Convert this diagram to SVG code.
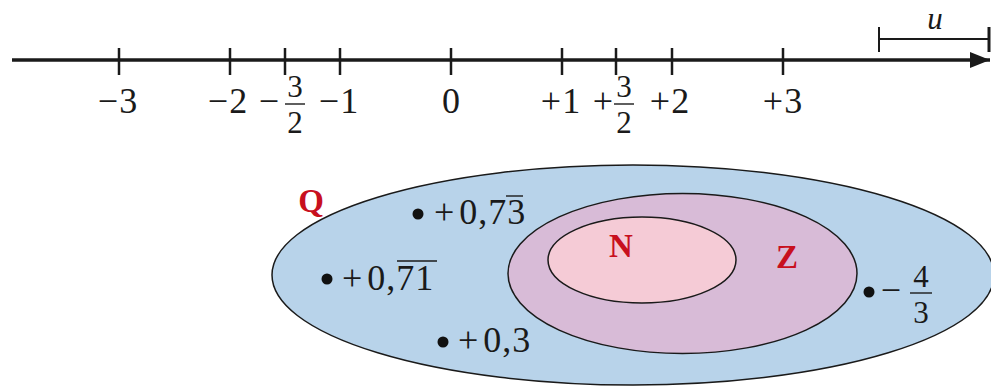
<svg xmlns="http://www.w3.org/2000/svg" width="991" height="390" viewBox="0 0 991 390">
<style>
.t{font-family:"Liberation Serif",serif;font-size:36px;fill:#1a1a1a}
.fr{font-size:31px}
.ax{letter-spacing:1px}
.lbl{font-family:"Liberation Serif",serif;font-size:33px;font-weight:bold;fill:#c8101e}
.tick{stroke:#1a1a1a;stroke-width:2.5}
.bar{stroke:#1a1a1a;stroke-width:1.4}
.ell{stroke:#1a1a1a;stroke-width:1.5}
</style>
<defs>
<marker id="arr" viewBox="0 0 20 16" refX="20" refY="8" markerWidth="20" markerHeight="16" markerUnits="userSpaceOnUse" orient="auto">
<path d="M0,0 L20,8 L0,16 Z" fill="#1a1a1a"/>
</marker>
</defs>
<g id="connectors">
<line x1="12" y1="60" x2="990" y2="60" stroke="#1a1a1a" stroke-width="3.5" marker-end="url(#arr)"/>
<line class="tick" x1="119" y1="48" x2="119" y2="75"/>
<line class="tick" x1="230" y1="48" x2="230" y2="75"/>
<line class="tick" x1="285" y1="48" x2="285" y2="75"/>
<line class="tick" x1="340" y1="48" x2="340" y2="75"/>
<line class="tick" x1="451" y1="48" x2="451" y2="75"/>
<line class="tick" x1="562" y1="48" x2="562" y2="75"/>
<line class="tick" x1="616" y1="48" x2="616" y2="75"/>
<line class="tick" x1="672" y1="48" x2="672" y2="75"/>
<line class="tick" x1="783" y1="48" x2="783" y2="75"/>
<line x1="879" y1="39" x2="989" y2="39" stroke="#1a1a1a" stroke-width="2.2"/>
<line x1="879" y1="27" x2="879" y2="52" stroke="#1a1a1a" stroke-width="2"/>
<line x1="989" y1="27" x2="989" y2="52" stroke="#1a1a1a" stroke-width="3"/>
</g>
<g id="axis-labels">
<text class="t ax" x="118" y="113" text-anchor="middle">−3</text>
<text class="t ax" x="228" y="113" text-anchor="middle">−2</text>
<text class="t" x="269" y="113" text-anchor="middle">−</text>
<text class="t fr" x="295" y="97" text-anchor="middle">3</text>
<line class="bar" x1="285" y1="104" x2="305" y2="104"/>
<text class="t fr" x="295" y="133" text-anchor="middle">2</text>
<text class="t ax" x="339" y="113" text-anchor="middle">−1</text>
<text class="t" x="451" y="113" text-anchor="middle">0</text>
<text class="t ax" x="561" y="113" text-anchor="middle">+1</text>
<text class="t" x="603" y="113" text-anchor="middle">+</text>
<text class="t fr" x="624" y="97" text-anchor="middle">3</text>
<line class="bar" x1="614" y1="104" x2="634" y2="104"/>
<text class="t fr" x="624" y="133" text-anchor="middle">2</text>
<text class="t ax" x="670" y="113" text-anchor="middle">+2</text>
<text class="t ax" x="783" y="113" text-anchor="middle">+3</text>
<text class="t fr" x="935" y="29" text-anchor="middle" font-style="italic">u</text>
</g>
<g id="Q">
<ellipse class="ell" cx="633" cy="275" rx="361" ry="110" fill="#b8d3ea"/>
<text class="lbl" x="311" y="212" text-anchor="middle">Q</text>
</g>
<g id="Z">
<ellipse class="ell" cx="682.5" cy="273.5" rx="174.5" ry="80" fill="#d8bbd7"/>
<text class="lbl" x="787" y="268" text-anchor="middle">Z</text>
</g>
<g id="N">
<ellipse class="ell" cx="642" cy="260" rx="94" ry="43" fill="#f5cbd6"/>
<text class="lbl" x="621" y="257" text-anchor="middle">N</text>
</g>
<g id="p1">
<circle cx="418" cy="214" r="5.5" fill="#111"/>
<text class="t ax" x="434" y="224">+<tspan dx="4">0,73</tspan></text>
<line class="bar" x1="506" y1="196" x2="523" y2="196"/>
</g>
<g id="p2">
<circle cx="327" cy="279" r="5.5" fill="#111"/>
<text class="t ax" x="342" y="290">+<tspan dx="4">0,71</tspan></text>
<line class="bar" x1="397" y1="261" x2="437" y2="261"/>
</g>
<g id="p3">
<circle cx="443" cy="342" r="5.5" fill="#111"/>
<text class="t ax" x="458" y="352">+<tspan dx="4">0,3</tspan></text>
</g>
<g id="p4">
<circle cx="869" cy="292" r="5.5" fill="#111"/>
<text class="t" x="891" y="302" text-anchor="middle">−</text>
<text class="t fr" x="921" y="287" text-anchor="middle">4</text>
<line class="bar" x1="910" y1="293" x2="932" y2="293"/>
<text class="t fr" x="921" y="323" text-anchor="middle">3</text>
</g>
</svg>
